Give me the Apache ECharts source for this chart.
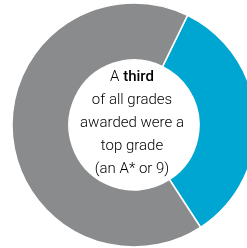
<!DOCTYPE html>
<html>
<head>
<meta charset="utf-8">
<script src="https://cdn.jsdelivr.net/npm/echarts@6/dist/echarts.min.js"></script>
<style>
  html, body { margin: 0; padding: 0; background: #fff; }
  #chart { width: 247px; height: 248px; }
</style>
</head>
<body>
<div id="chart"></div>
<script>
// share of grades: top grade (A* or 9) vs the rest
const categories = ['Top grade (A* or 9)', 'Other grades']
const shares = [33.6, 66.4]
const colors = ['#00a6d2', '#8a8b8d']

const chart = echarts.init(document.getElementById('chart'))

chart.setOption({
  animation: false,
  graphic: [{
    type: 'text',
    x: 132,
    y: 123,
    style: {
      text: '{n|A }{b|third}\n{n|of all grades}\n{n|awarded were a}\n{n|top grade}\n{n|(an A* or 9)}',
      align: 'center',
      verticalAlign: 'middle',
      rich: {
        n: { fontFamily: 'Roboto', fontWeight: 300, fontSize: 15, lineHeight: 23, color: '#606062' },
        b: { fontFamily: 'Roboto', fontWeight: 500, fontSize: 15, lineHeight: 23, color: '#2a2a2a' }
      }
    }
  }],
  series: [{
    type: 'pie',
    center: [134, 125],
    radius: [65, 122],
    startAngle: 64,
    clockwise: true,
    silent: true,
    label: { show: false },
    labelLine: { show: false },
    itemStyle: { borderColor: '#fff', borderWidth: 1.5 },
    data: categories.map((name, i) => ({
      name: name,
      value: shares[i],
      itemStyle: { color: colors[i] }
    }))
  }]
})
</script>
</body>
</html>
